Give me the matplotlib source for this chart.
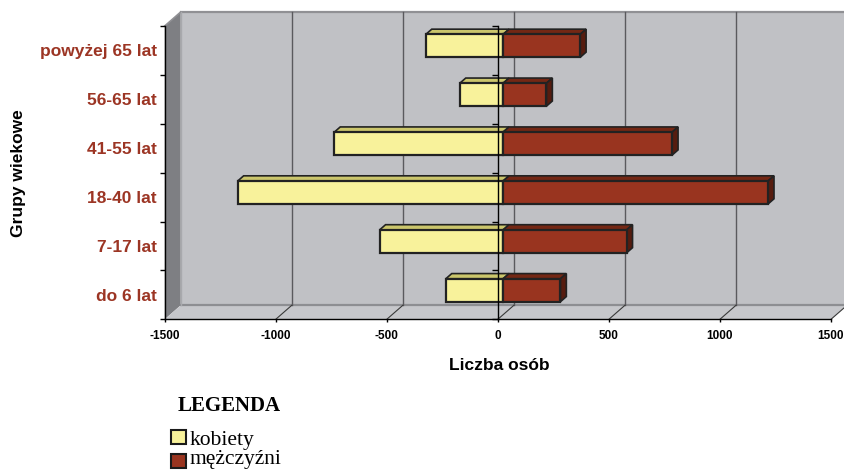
import matplotlib
matplotlib.use('Agg')
import matplotlib.pyplot as plt
import numpy as np
from matplotlib.patches import Polygon, Rectangle

plt.rcParams['font.family'] = ['Liberation Sans', 'DejaVu Sans']

# Data (bottom group first)
groups = ['do 6 lat', '7-17 lat', '18-40 lat', '41-55 lat', '56-65 lat', 'powyżej 65 lat']
kobiety = [258, 556, 1195, 760, 195, 348]
mezczyzni = [258, 556, 1193, 761, 195, 347]
xticks = [-1500, -1000, -500, 0, 500, 1000, 1500]
legend_labels = ['kobiety', 'mężczyźni']

# colours
wall = '#c0c1c5'
side_wall = '#7e7f83'
floor_c = '#c6c7cb'
yellow = ['#f8f29b', '#cbc66c']      # front, top
red = ['#99341f', '#742714', '#561c0f']  # front, top, side
label_red = '#9c3524'

W, H = 845, 470
fig = plt.figure(figsize=(W / 100, H / 100), dpi=100)


def fx(x):
    return x / W


def fy(y):
    return 1 - y / H


# axes = front plane of the 3D box
ax = fig.add_axes([fx(164.7), fy(319.3), (831 - 164.7) / W, (319.3 - 26) / H])
ax.set_xlim(-1500, 1500)
ax.set_ylim(0, 6)
ax.patch.set_alpha(0)

# depth of the box in data units
DX, DY = 72, 0.286
n = len(groups)

# back wall, side wall, floor
ax.add_patch(Polygon([(-1500 + DX, DY), (1500 + DX, DY), (1500 + DX, n + DY), (-1500 + DX, n + DY)],
                     fc=wall, ec='none', zorder=0, clip_on=False))
ax.add_patch(Polygon([(-1500, 0), (-1500 + DX, DY), (-1500 + DX, n + DY), (-1500, n)],
                     fc=side_wall, ec='none', zorder=0.5, clip_on=False))
ax.add_patch(Polygon([(-1500, 0), (1500, 0), (1500 + DX, DY), (-1500 + DX, DY)],
                     fc=floor_c, ec='none', zorder=0.5, clip_on=False))
ax.plot([-1500 + DX, 1500 + DX], [n + DY, n + DY], color='#909094', lw=1.6, zorder=0.6, clip_on=False)
ax.plot([-1500, -1500 + DX], [n, n + DY], color='#909094', lw=1.2, zorder=0.6, clip_on=False)
ax.plot([-1500 + DX, 1500 + DX], [DY, DY], color='#8d8e92', lw=1.6, zorder=0.6, clip_on=False)
ax.plot([-1500 + DX, -1500 + DX], [DY, n + DY], color='#a8a9ad', lw=1.0, zorder=0.6, clip_on=False)

# gridlines on the back wall and floor
for v in xticks[1:-1]:
    ax.plot([v + DX, v + DX], [DY, n + DY], color='#5a5a5e', lw=1.0, zorder=1, clip_on=False)
for v in xticks[1:]:
    ax.plot([v, v + DX], [0, DY], color='#3a3a3a', lw=0.8, zorder=1, clip_on=False)

# 3D bars
f0, depth, h = 0.33, 0.37, 0.47
ox, oy = f0 * DX, f0 * DY
ddx, ddy = depth * DX, depth * DY
for i in range(n):
    y0 = i + 0.5 - h / 2 + oy
    y1 = y0 + h
    for val, cols, right in [(-kobiety[i], yellow, False), (mezczyzni[i], red, True)]:
        xa, xb = sorted([ox, ox + val])
        ax.add_patch(Polygon([(xa, y1), (xb, y1), (xb + ddx, y1 + ddy), (xa + ddx, y1 + ddy)],
                             fc=cols[1], ec='#222222', lw=1.2, zorder=2, clip_on=False))
        if right:
            ax.add_patch(Polygon([(xb, y0), (xb + ddx, y0 + ddy), (xb + ddx, y1 + ddy), (xb, y1)],
                                 fc=cols[2], ec='#222222', lw=1.2, zorder=2, clip_on=False))
        ax.add_patch(Rectangle((xa, y0), xb - xa, h, fc=cols[0], ec='#222222', lw=1.6, zorder=3))

# category axis crossing at 0
ax.plot([0, 0], [0, n], color='black', lw=1.0, zorder=6, clip_on=False)
ax.plot(np.zeros(n + 1), np.arange(n + 1), ls='none', marker=0, ms=4, mew=1.0,
        color='black', zorder=6, clip_on=False)

# spines and ticks
for s in ['top', 'right']:
    ax.spines[s].set_visible(False)
for s in ['left', 'bottom']:
    ax.spines[s].set_color('black')
    ax.spines[s].set_linewidth(1.0)
    ax.spines[s].set_zorder(7)

ax.set_xticks(xticks, labels=[str(v) for v in xticks])
ax.tick_params(axis='x', length=2.5, width=1.0, pad=5, labelsize=8.5)
for t in ax.get_xticklabels():
    t.set_fontweight('bold')

ax.set_yticks(range(n + 1), labels=[''] * (n + 1))
ax.tick_params(axis='y', which='major', length=3.6, width=1.0)
ax.set_yticks(np.arange(n) + 0.5, labels=groups, minor=True)
ax.tick_params(axis='y', which='minor', length=0, pad=5.5, labelsize=12.5, labelcolor=label_red)
for t in ax.get_yticklabels(minor=True):
    t.set_fontweight('bold')

fig.text(fx(499), fy(365), 'Liczba osób', fontsize=12.5, fontweight='bold', ha='center', va='center')
fig.text(fx(19), fy(173), 'Grupy wiekowe', fontsize=12.5, fontweight='bold', rotation=90,
         ha='center', va='center')

# legend
serif = ['Liberation Serif', 'DejaVu Serif']
fig.text(fx(178), fy(411), 'LEGENDA', family=serif, fontsize=15, fontweight='bold', ha='left', va='baseline')
for k, (lab, col) in enumerate(zip(legend_labels, [yellow[0], red[0]])):
    top = 429.5 + k * 24.2
    fig.add_artist(Rectangle((fx(171.5), fy(top + 14.5)), 14.5 / W, 14.5 / H, fc=col, ec='#1a1a1a',
                             lw=1.5, transform=fig.transFigure))
    fig.text(fx(189.5), fy([444.5, 464][k]), lab, family=serif, fontsize=15.5, ha='left', va='baseline')

fig.savefig('out.png', dpi=100)
